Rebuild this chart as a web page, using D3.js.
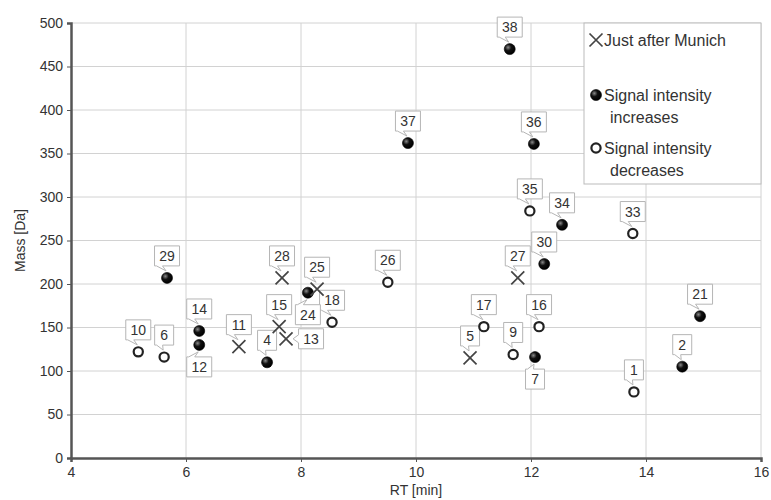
<!DOCTYPE html>
<html>
<head>
<meta charset="utf-8">
<script src="https://cdn.jsdelivr.net/npm/d3@7"></script>
<style>
  body { margin: 0; background: #fff; }
  text { font-family: "Liberation Sans", Arial, sans-serif; fill: #333; }
</style>
</head>
<body>
<div id="chart"></div>
<script>
/* compound data */
const ids   = [1, 2, 4, 5, 6, 7, 9, 10, 11, 12, 13, 14, 15, 16, 17, 18, 21, 24, 25, 26, 27, 28, 29, 30, 33, 34, 35, 36, 37, 38];
const rt    = [13.79, 14.63, 7.41, 10.94, 5.62, 12.07, 11.69, 5.17, 6.92, 6.23, 7.74, 6.23, 7.62, 12.14, 11.18, 8.54, 14.94, 8.12, 8.28, 9.51, 11.77, 7.67, 5.67, 12.23, 13.77, 12.54, 11.98, 12.05, 9.86, 11.63];
const mass  = [76, 105, 110, 115, 116, 116, 119, 122, 128, 130, 137, 146, 151, 151, 151, 156, 163, 190, 194, 202, 207, 207, 207, 223, 258, 268, 284, 361, 362, 470];
const kind  = ["open", "filled", "filled", "cross", "open", "filled", "open", "open", "cross", "filled", "cross", "filled", "cross", "open", "open", "open", "filled", "filled", "cross", "open", "cross", "cross", "filled", "filled", "open", "filled", "open", "filled", "filled", "filled"];
const side  = ["top", "top", "top", "top", "top", "bottom", "top", "top", "top", "bottom", "right", "top", "top", "top", "top", "top", "top", "bottom", "top", "top", "top", "top", "top", "top", "top", "top", "top", "top", "top", "top"];

const xTicks = [4, 6, 8, 10, 12, 14, 16];
const yTicks = [0, 50, 100, 150, 200, 250, 300, 350, 400, 450, 500];
const legendItems = [
  { kind: "cross",  lines: ["Just after Munich"] },
  { kind: "filled", lines: ["Signal intensity", "increases"] },
  { kind: "open",   lines: ["Signal intensity", "decreases"] }
];

const W = 771, H = 500;
const margin = { top: 23, right: 10, bottom: 42, left: 71 };

const svg = d3.select("#chart").append("svg")
  .attr("width", W).attr("height", H);

const defs = svg.append("defs");
const grad = defs.append("radialGradient").attr("id", "ball")
  .attr("cx", "35%").attr("cy", "35%").attr("r", "65%");
grad.append("stop").attr("offset", "0%").attr("stop-color", "#8a8a8a");
grad.append("stop").attr("offset", "45%").attr("stop-color", "#111");
grad.append("stop").attr("offset", "100%").attr("stop-color", "#000");

const x = d3.scaleLinear().domain([4, 16]).range([margin.left, W - margin.right]);
const y = d3.scaleLinear().domain([0, 500]).range([H - margin.bottom, margin.top]);

// grid
svg.append("g").selectAll("line.h").data(yTicks.slice(1)).enter().append("line")
  .attr("x1", x(4)).attr("x2", x(16))
  .attr("y1", d => y(d)).attr("y2", d => y(d))
  .attr("stroke", "#d2d2d2").attr("stroke-width", 1);
svg.append("g").selectAll("line.v").data(xTicks.slice(1)).enter().append("line")
  .attr("x1", d => x(d)).attr("x2", d => x(d))
  .attr("y1", y(0)).attr("y2", y(500))
  .attr("stroke", "#d2d2d2").attr("stroke-width", 1);

// axes
const xAxis = svg.append("g")
  .attr("transform", `translate(0,${y(0)})`)
  .call(d3.axisBottom(x).tickValues(xTicks).tickSize(4).tickPadding(5).tickFormat(d3.format("d")));
const yAxis = svg.append("g")
  .attr("transform", `translate(${x(4)},0)`)
  .call(d3.axisLeft(y).tickValues(yTicks).tickSize(4).tickPadding(4).tickFormat(d3.format("d")));
[xAxis, yAxis].forEach(a => {
  a.select(".domain").attr("stroke", "#555").attr("stroke-width", 2.5);
  a.selectAll(".tick line").attr("stroke", "#555");
  a.selectAll(".tick text").attr("font-size", 14).attr("fill", "#333")
    .style("font-family", "'Liberation Sans', Arial, sans-serif");
});

svg.append("text").attr("x", x(10)).attr("y", 495)
  .attr("text-anchor", "middle").attr("font-size", 14).text("RT [min]");
svg.append("text")
  .attr("transform", `translate(25,${y(250)}) rotate(-90)`)
  .attr("text-anchor", "middle").attr("font-size", 14).text("Mass [Da]");

// markers
function drawMarker(g, k, cx, cy) {
  if (k === "cross") {
    const s = 6.5;
    g.append("path")
      .attr("d", `M${cx - s},${cy - s}L${cx + s},${cy + s}M${cx - s},${cy + s}L${cx + s},${cy - s}`)
      .attr("stroke", "#444").attr("stroke-width", 1.7).attr("fill", "none");
  } else if (k === "filled") {
    g.append("circle").attr("cx", cx).attr("cy", cy).attr("r", 5.5)
      .attr("fill", "url(#ball)").attr("stroke", "#000").attr("stroke-width", 0.6);
  } else {
    g.append("circle").attr("cx", cx).attr("cy", cy).attr("r", 4.6)
      .attr("fill", "#fff").attr("stroke", "#222").attr("stroke-width", 2.2);
  }
}

const points = ids.map((id, i) => ({ id: id, rt: rt[i], mass: mass[i], kind: kind[i], side: side[i] }));

// callout labels
function callout(d) {
  const px = x(d.rt), py = y(d.mass);
  const w = String(d.id).length > 1 ? 25 : 19, h = 20;
  let bx, by, p;
  if (d.side === "top") {
    bx = px - w / 2; by = py - 22 - h / 2;
    p = `M${bx},${by}H${bx + w}V${by + h}H${bx + 8}L${px - 1},${py - 7}L${bx + 2},${by + h}H${bx}Z`;
  } else if (d.side === "bottom") {
    bx = px - w / 2; by = py + 22 - h / 2;
    p = `M${bx},${by}H${bx + 2}L${px - 1},${py + 7}L${bx + 8},${by}H${bx + w}V${by + h}H${bx}Z`;
  } else {
    bx = px + 25 - w / 2; by = py - h / 2;
    p = `M${bx},${by}H${bx + w}V${by + h}H${bx}V${by + 14}L${px + 7},${py}L${bx},${by + 6}Z`;
  }
  return { p: p, tx: bx + w / 2, ty: by + h / 2 };
}

const labels = svg.append("g");
points.forEach(d => {
  const c = callout(d);
  labels.append("path").attr("d", c.p)
    .attr("fill", "#fff").attr("stroke", "#b5b5b5").attr("stroke-width", 1);
  labels.append("text").attr("x", c.tx).attr("y", c.ty + 5)
    .attr("text-anchor", "middle").attr("font-size", 14).text(d.id);
});

const marks = svg.append("g");
points.forEach(d => drawMarker(marks, d.kind, x(d.rt), y(d.mass)));

// legend
const lg = svg.append("g");
lg.append("rect").attr("x", 584).attr("y", 23).attr("width", 177).attr("height", 161)
  .attr("fill", "#fff").attr("stroke", "#bbb").attr("stroke-width", 1);
const rowY = [40, 95, 148];
legendItems.forEach((it, i) => {
  drawMarker(lg, it.kind, 596, rowY[i]);
  it.lines.forEach((ln, j) => {
    lg.append("text")
      .attr("x", j === 0 ? 604 : 610).attr("y", rowY[i] + 6 + j * 22)
      .attr("font-size", 16).attr("fill", "#222").text(ln);
  });
});
</script>
</body>
</html>
